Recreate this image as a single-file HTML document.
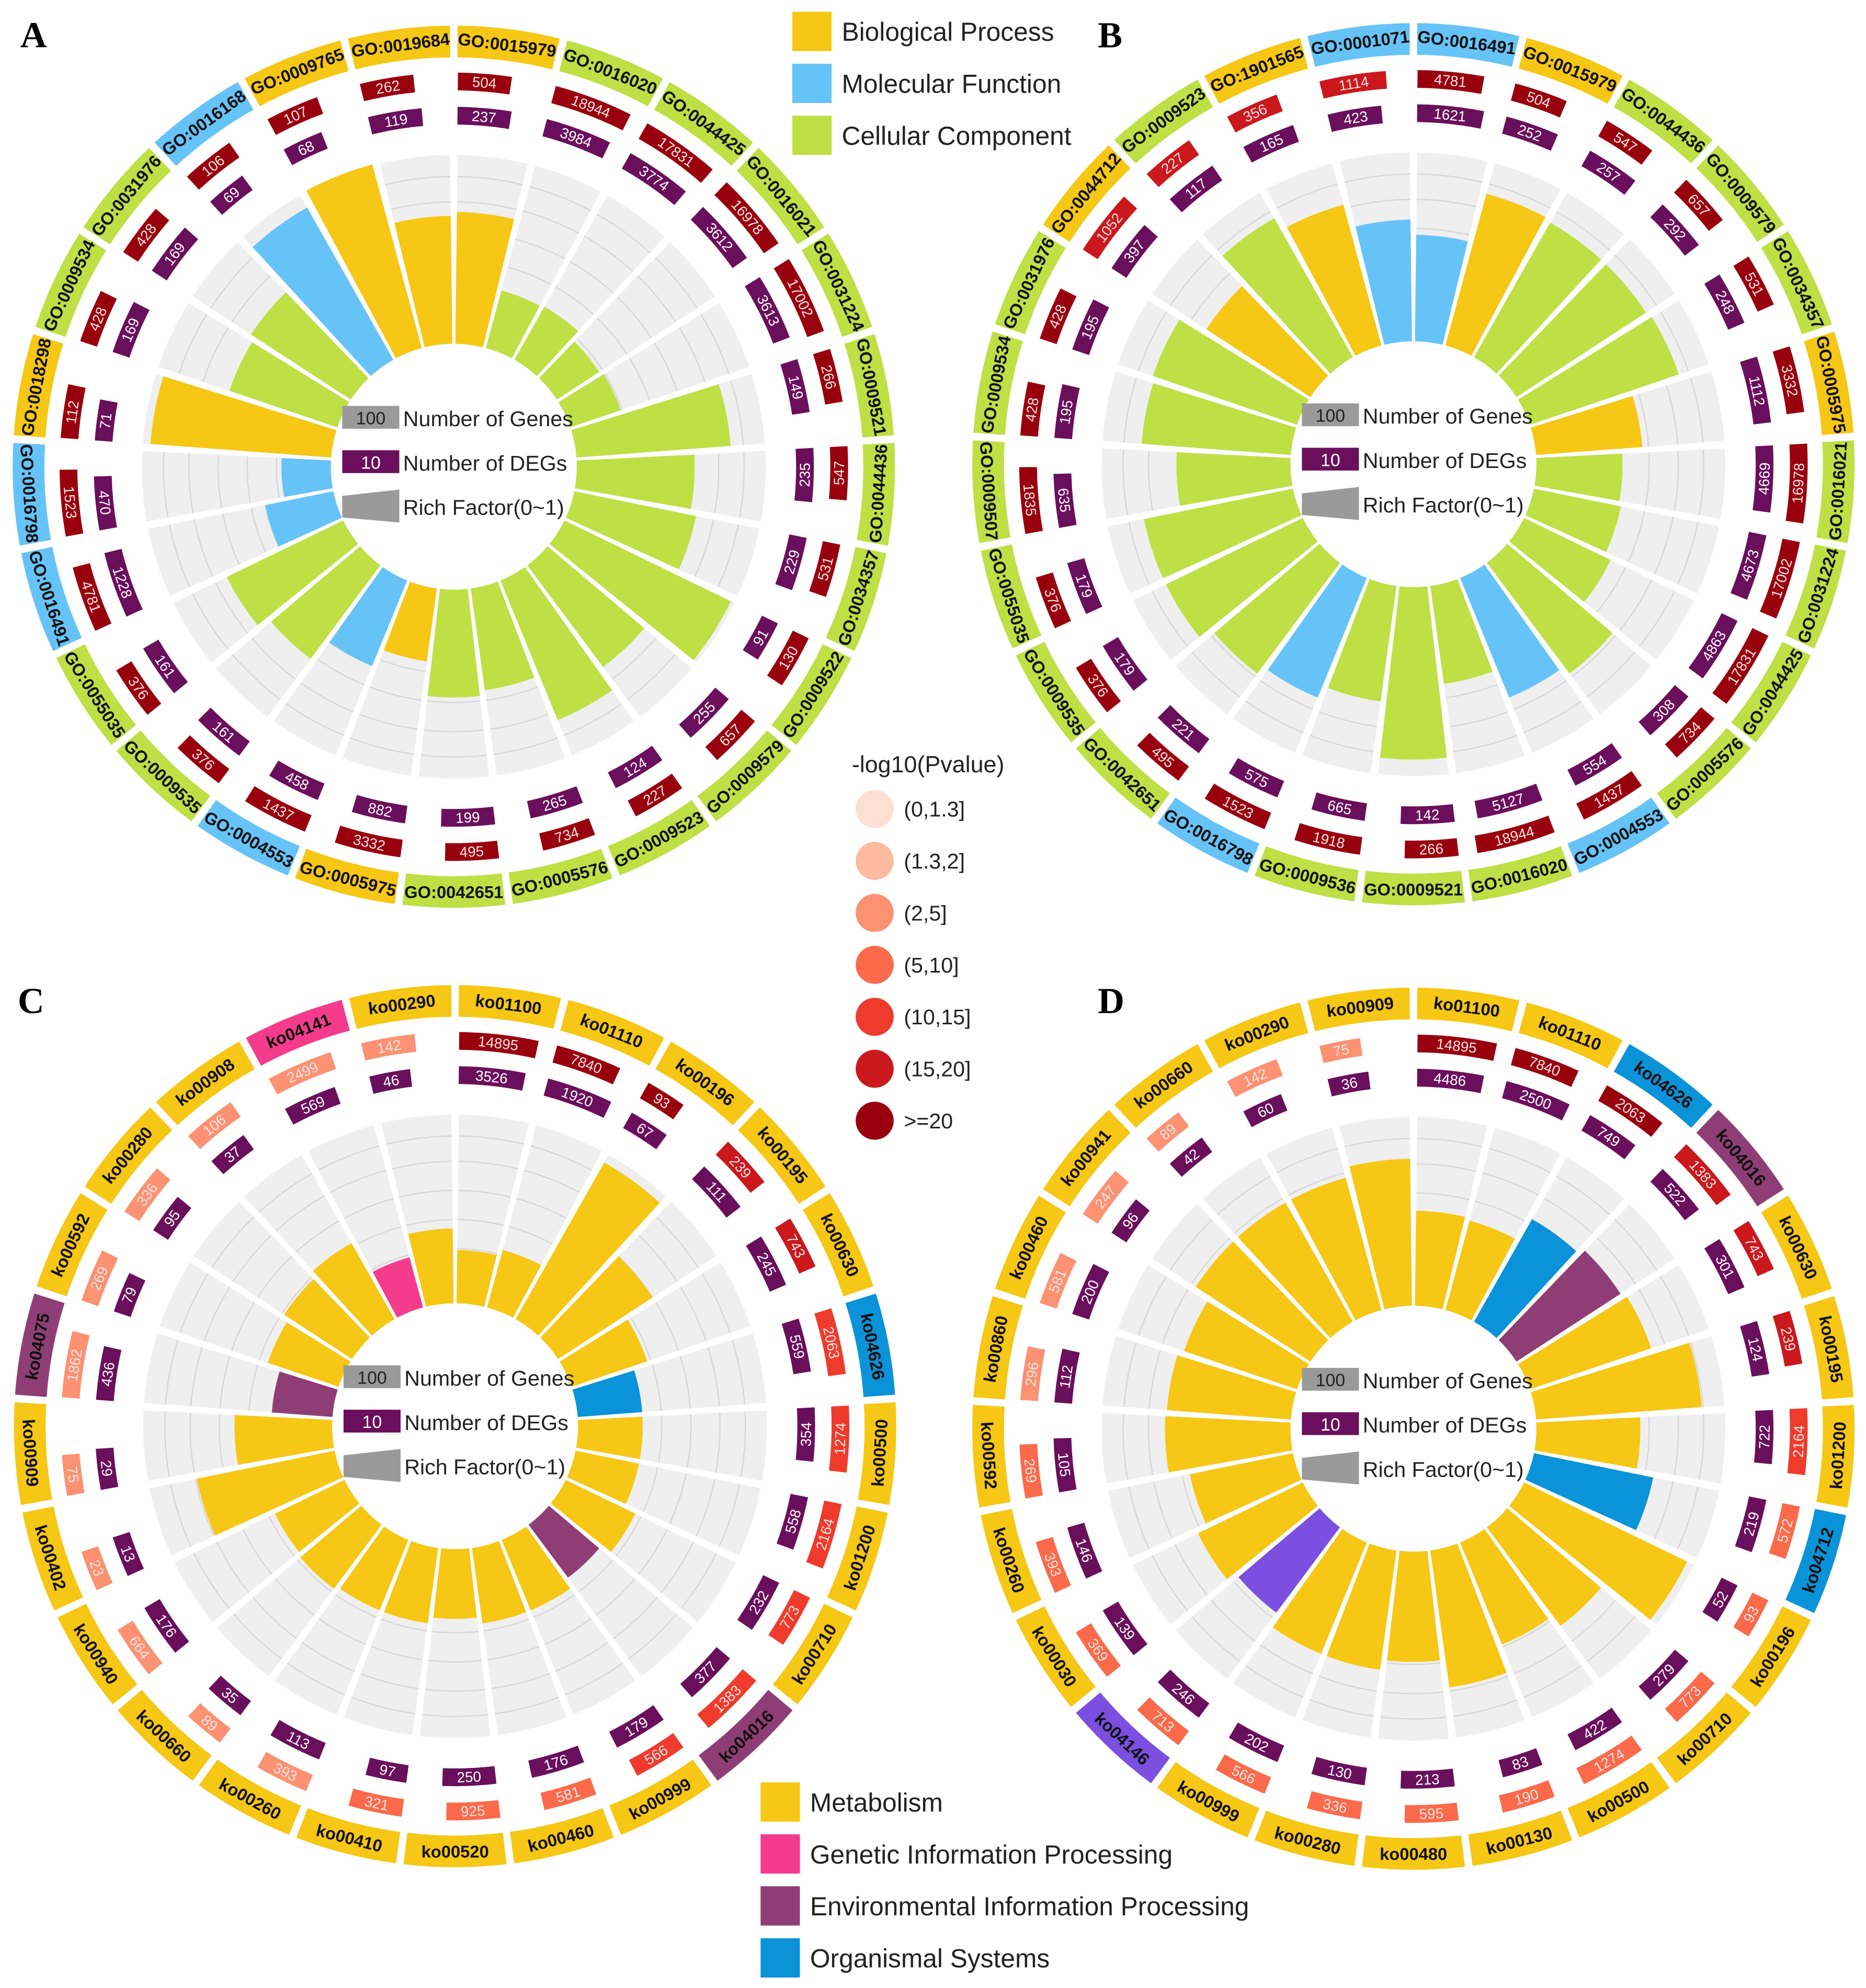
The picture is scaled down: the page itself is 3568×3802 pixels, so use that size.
<!DOCTYPE html>
<html><head><meta charset="utf-8">
<style>
html,body{margin:0;padding:0;background:#fff;}
svg{display:block;}
text{font-family:"Liberation Sans",sans-serif;}
</style></head>
<body>
<svg id="s" xmlns="http://www.w3.org/2000/svg" width="3568" height="3802" viewBox="0 0 1472 1568">
<rect width="1472" height="1568" fill="#fff"/>
<g id="g"></g>
<!-- panel letters -->
<text x="16" y="37" font-weight="bold" font-size="29" style="font-family:'Liberation Serif',serif">A</text>
<text x="866" y="37" font-weight="bold" font-size="29" style="font-family:'Liberation Serif',serif">B</text>
<text x="14" y="799" font-weight="bold" font-size="29" style="font-family:'Liberation Serif',serif">C</text>
<text x="866" y="799" font-weight="bold" font-size="29" style="font-family:'Liberation Serif',serif">D</text>
<!-- GO legend -->
<rect x="625" y="9" width="31" height="31" fill="#f6c714"/>
<text x="664" y="32" font-size="20.5" fill="#222">Biological Process</text>
<rect x="625" y="50" width="31" height="31" fill="#66c3f7"/>
<text x="664" y="73" font-size="20.5" fill="#222">Molecular Function</text>
<rect x="625" y="91" width="31" height="31" fill="#bfdf45"/>
<text x="664" y="114" font-size="20.5" fill="#222">Cellular Component</text>
<!-- pvalue legend -->
<text x="672" y="609" font-size="18.5" fill="#222">-log10(Pvalue)</text>
<g font-size="17" fill="#222">
<circle cx="690" cy="638" r="15" fill="#fde0d2"/><text x="713" y="644">(0,1.3]</text>
<circle cx="690" cy="679" r="15" fill="#fcbba1"/><text x="713" y="685">(1.3,2]</text>
<circle cx="690" cy="720" r="15" fill="#fc9272"/><text x="713" y="726">(2,5]</text>
<circle cx="690" cy="761" r="15" fill="#fb6a4a"/><text x="713" y="767">(5,10]</text>
<circle cx="690" cy="802" r="15" fill="#ef3b2c"/><text x="713" y="808">(10,15]</text>
<circle cx="690" cy="843" r="15" fill="#cb181d"/><text x="713" y="849">(15,20]</text>
<circle cx="690" cy="884" r="15" fill="#99000d"/><text x="713" y="890">&gt;=20</text>
</g>
<!-- KEGG legend -->
<rect x="600" y="1406" width="31" height="31" fill="#f6c714"/>
<text x="639" y="1429" font-size="20.5" fill="#222">Metabolism</text>
<rect x="600" y="1447" width="31" height="31" fill="#f53c8c"/>
<text x="639" y="1470" font-size="20.5" fill="#222">Genetic Information Processing</text>
<rect x="600" y="1488" width="31" height="31" fill="#8f3e75"/>
<text x="639" y="1511" font-size="20.5" fill="#222">Environmental Information Processing</text>
<rect x="600" y="1529" width="31" height="31" fill="#0a93d8"/>
<text x="639" y="1552" font-size="20.5" fill="#222">Organismal Systems</text>
</svg>
<script>
var C={Y:'#f6c714',B:'#66c3f7',G:'#bfdf45',K:'#0a93d8',P:'#8f3e75',N:'#f53c8c',V:'#7b4fe0'};
var PV={d:'#99000d',e:'#cb181d',f:'#ef3b2c',g:'#fb6a4a',h:'#fc9272',i:'#fcbba1'};
var DEG='#6a0f5c';
var A=[["GO:0015979","Y","504","d","237",201],["GO:0016020","G","18944","d","3984",144],["GO:0044425","G","17831","d","3774",145],["GO:0016021","G","16978","d","3612",137],["GO:0031224","G","17002","d","3613",139],["GO:0009521","G","266","d","149",219],["GO:0044436","G","547","d","235",190],["GO:0034357","G","531","d","229",195],["GO:0009522","G","130","d","91",243],["GO:0009579","G","657","d","255",197],["GO:0009523","G","227","d","124",216],["GO:0005576","G","734","d","265",178],["GO:0042651","G","495","d","199",182],["GO:0005975","Y","3332","d","882",155],["GO:0004553","B","1437","d","458",170],["GO:0009535","G","376","d","161",189],["GO:0055035","G","376","d","161",199],["GO:0016491","B","4781","d","1228",152],["GO:0016798","B","1523","d","470",136],["GO:0018298","Y","112","d","71",240],["GO:0009534","G","428","d","169",187],["GO:0031976","G","428","d","169",191],["GO:0016168","B","106","d","69",235],["GO:0009765","Y","107","d","68",247],["GO:0019684","Y","262","d","119",198]];
var B=[["GO:0016491","B","4781","d","1621",181],["GO:0015979","Y","504","d","252",221],["GO:0044436","G","547","d","257",219],["GO:0009579","G","657","d","292",219],["GO:0034357","G","531","d","248",221],["GO:0005975","Y","3332","d","1112",181],["GO:0016021","G","16978","d","4669",165],["GO:0031224","G","17002","d","4673",167],["GO:0044425","G","17831","d","4863",173],["GO:0005576","G","734","d","308",206],["GO:0004553","B","1437","d","554",199],["GO:0016020","G","18944","d","5127",175],["GO:0009521","G","266","d","142",233],["GO:0009536","G","1918","d","665",189],["GO:0016798","B","1523","d","575",199],["GO:0042651","G","495","d","221",206],["GO:0009535","G","376","d","179",217],["GO:0055035","G","376","d","179",217],["GO:0009507","G","1835","d","635",187],["GO:0009534","G","428","d","195",215],["GO:0031976","G","428","d","195",217],["GO:0044712","Y","1052","e","397",195],["GO:0009523","G","227","e","117",223],["GO:1901565","Y","356","e","165",212],["GO:0001071","B","1114","e","423",193]];
var Cc=[["ko01100","Y","14895","d","3526",139],["ko01110","Y","7840","d","1920",144],["ko00196","Y","93","d","67",239],["ko00195","Y","239","e","111",186],["ko00630","Y","743","e","245",160],["ko04626","K","2063","f","559",148],["ko00500","Y","1274","f","354",148],["ko01200","Y","2164","f","558",148],["ko00710","Y","773","f","232",158],["ko04016","P","1383","f","377",149],["ko00999","Y","566","f","179",157],["ko00460","Y","581","g","176",157],["ko00520","Y","925","g","250",152],["ko00410","Y","321","g","97",157],["ko00260","Y","393","h","113",157],["ko00660","Y","89","h","35",160],["ko00940","Y","664","h","176",158],["ko00402","Y","23","h","13",208],["ko00909","Y","75","h","29",174],["ko04075","P","1862","h","436",145],["ko00592","Y","269","h","79",156],["ko00280","Y","336","h","95",161],["ko00908","Y","106","h","37",166],["ko04141","N","2499","h","569",138],["ko00290","Y","142","h","46",156]];
var D=[["ko01100","Y","14895","d","4486",172],["ko01110","Y","7840","d","2500",170],["ko04626","K","2063","d","749",190],["ko04016","P","1383","e","522",195],["ko00630","Y","743","e","301",198],["ko00195","Y","239","e","124",228],["ko01200","Y","2164","f","722",179],["ko04712","K","572","g","219",193],["ko00196","Y","93","g","52",240],["ko00710","Y","773","g","279",194],["ko00500","Y","1274","g","422",184],["ko00130","Y","190","g","83",206],["ko00480","Y","595","g","213",184],["ko00280","Y","336","g","130",192],["ko00999","Y","566","g","202",192],["ko04146","V","713","g","246",181],["ko00030","Y","369","g","139",189],["ko00260","Y","393","g","146",180],["ko00592","Y","269","g","105",196],["ko00860","Y","296","h","112",195],["ko00460","Y","581","h","200",191],["ko00941","Y","247","h","96",205],["ko00660","Y","89","h","42",205],["ko00290","Y","142","h","60",205],["ko00909","Y","75","h","36",213]];
var out=[];
function P(cx,cy,r,a){var t=a*Math.PI/180;return [(cx+r*Math.sin(t)).toFixed(2),(cy-r*Math.cos(t)).toFixed(2)];}
function arc(cx,cy,r0,r1,a0,a1,f){var l=(a1-a0)>180?1:0;var p1=P(cx,cy,r1,a0),p2=P(cx,cy,r1,a1),p3=P(cx,cy,r0,a1),p4=P(cx,cy,r0,a0);
out.push('<path d="M'+p1+' A'+r1+' '+r1+' 0 '+l+' 1 '+p2+' L'+p3+' A'+r0+' '+r0+' 0 '+l+' 0 '+p4+'Z" fill="'+f+'"/>');}
function txt(cx,cy,r,a,s,size,fill,bold){var p=P(cx,cy,r,a);var an=((a%360)+360)%360;var rot=(an>90&&an<270)?an+180:an;
out.push('<text x="'+p[0]+'" y="'+p[1]+'" transform="rotate('+rot.toFixed(2)+' '+p[0]+' '+p[1]+')" text-anchor="middle" dominant-baseline="central" font-size="'+size+'" fill="'+fill+'"'+(bold?' font-weight="bold"':'')+'>'+s+'</text>');}
function panel(cx,cy,data){var n=data.length,st=360/n,r0=97,rg=246;
 for(var i=0;i<n;i++){var a0=i*st,a1=a0+st,m=(a0+a1)/2,d=data[i];
  arc(cx,cy,r0,rg,a0+0.7,a1-0.7,'#efefef');
  [140,163,186,209,229].forEach(function(r){var q1=P(cx,cy,r,a0+0.7),q2=P(cx,cy,r,a1-0.7);out.push('<path d="M'+q1+' A'+r+' '+r+' 0 0 1 '+q2+'" fill="none" stroke="#d6d6d6" stroke-width="1"/>');});
  arc(cx,cy,r0,d[5],a0+0.7,a1-0.7,C[d[1]]);
  arc(cx,cy,323,348,a0+0.5,a1-0.5,C[d[1]]);
  txt(cx,cy,335.5,m,d[0],13.5,'#111',true);
  var w1=12+10*d[2].length, w2=12+10*d[4].length;
  var da1=w1/305*180/Math.PI, da2=w2/278*180/Math.PI;
  arc(cx,cy,297,311,a0+0.6,a0+0.6+da1,PV[d[3]]);
  txt(cx,cy,304,a0+0.6+da1/2,d[2],11.5,'#f3e3e3',false);
  arc(cx,cy,270,284,a0+0.6,a0+0.6+da2,DEG);
  txt(cx,cy,277,a0+0.6+da2/2,d[4],11.5,'#fff',false);
 }
 var x=cx-88;
 out.push('<rect x="'+x+'" y="'+(cy-48)+'" width="45" height="18" fill="#9a9a9a"/>');
 out.push('<text x="'+(x+22.5)+'" y="'+(cy-33.5)+'" text-anchor="middle" font-size="14" fill="#222">100</text>');
 out.push('<text x="'+(cx-40)+'" y="'+(cy-32)+'" font-size="17" fill="#222">Number of Genes</text>');
 out.push('<rect x="'+x+'" y="'+(cy-13)+'" width="45" height="18" fill="'+DEG+'"/>');
 out.push('<text x="'+(x+22.5)+'" y="'+(cy+1.5)+'" text-anchor="middle" font-size="14" fill="#fff">10</text>');
 out.push('<text x="'+(cx-40)+'" y="'+(cy+3)+'" font-size="17" fill="#222">Number of DEGs</text>');
 out.push('<polygon points="'+x+','+(cy+23)+' '+(x+45)+','+(cy+18)+' '+(x+45)+','+(cy+44)+' '+x+','+(cy+40)+'" fill="#9a9a9a"/>');
 out.push('<text x="'+(cx-40)+'" y="'+(cy+38)+'" font-size="17" fill="#222">Rich Factor(0~1)</text>');
}
panel(358,368,A);panel(1115,366,B);panel(359,1125,Cc);panel(1115,1127,D);
document.getElementById('g').innerHTML=out.join('');
</script>
</body></html>
